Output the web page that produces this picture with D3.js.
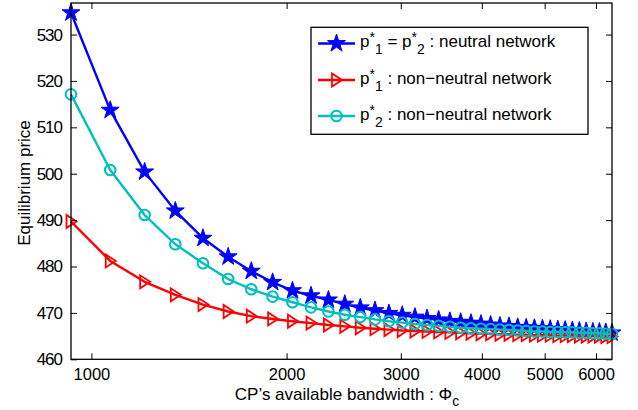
<!DOCTYPE html>
<html>
<head>
<meta charset="utf-8">
<script src="https://cdn.jsdelivr.net/npm/d3@7"></script>
<style>
  html, body { margin: 0; padding: 0; background: #fff; }
  svg { display: block; font-family: "Liberation Sans", Arial, Helvetica, sans-serif; }
</style>
</head>
<body>
<svg id="chart" width="638" height="410"></svg>
<script>
// ---- data ----
const bandwidth = [930, 1069, 1208, 1347, 1486, 1625, 1764, 1903, 2042, 2181,
  2320, 2459, 2598, 2737, 2876, 3015, 3154, 3293, 3432, 3571,
  3710, 3849, 3988, 4127, 4266, 4405, 4544, 4683, 4822, 4961,
  5100, 5239, 5378, 5517, 5656, 5795, 5934, 6073, 6212, 6351];

const neutralPrice = [534.7, 513.7, 500.4, 492.0, 486.1, 482.1, 479.0, 476.6, 474.8, 473.7,
  472.8, 471.9, 471.1, 470.5, 469.9, 469.5, 469.1, 468.8, 468.5, 468.2,
  468.0, 467.8, 467.6, 467.4, 467.2, 467.1, 466.9, 466.8, 466.7, 466.6,
  466.5, 466.4, 466.3, 466.2, 466.1, 466.0, 465.9, 465.9, 465.8, 465.7];

const nonNeutralP1 = [489.7, 481.2, 476.7, 473.9, 471.8, 470.3, 469.3, 468.7, 468.2, 467.8,
  467.4, 467.1, 466.8, 466.6, 466.4, 466.2, 466.1, 466.0, 465.9, 465.8,
  465.7, 465.6, 465.5, 465.5, 465.4, 465.4, 465.3, 465.3, 465.2, 465.2,
  465.2, 465.1, 465.1, 465.1, 465.0, 465.0, 465.0, 465.0, 464.9, 464.9];

const nonNeutralP2 = [517.1, 500.8, 491.1, 484.8, 480.7, 477.3, 475.1, 473.5, 472.3, 471.2,
  470.3, 469.6, 469.1, 468.6, 468.2, 467.9, 467.6, 467.4, 467.2, 467.0,
  466.8, 466.7, 466.6, 466.5, 466.4, 466.3, 466.2, 466.1, 466.0, 466.0,
  465.9, 465.9, 465.8, 465.8, 465.7, 465.7, 465.6, 465.6, 465.5, 465.5];

const xTicks = [1000, 2000, 3000, 4000, 5000, 6000];
const yTicks = [460, 470, 480, 490, 500, 510, 520, 530];

const seriesInfo = [
  {key: "neutral", values: neutralPrice, color: "#0000ff", marker: "star"},
  {key: "p1", values: nonNeutralP1, color: "#ff0000", marker: "tri"},
  {key: "p2", values: nonNeutralP2, color: "#00bfbf", marker: "circle"}
];

// ---- layout ----
const X0 = 71, X1 = 612, Y0 = 3, Y1 = 359.3;
const svg = d3.select("#chart");

const x = d3.scaleLog().domain([930, 6351]).range([X0, X1]);
const y = d3.scaleLinear().domain([460, 536.8]).range([Y1, Y0]);

const starPath = d3.symbol().type(d3.symbolStar).size(100)();
const triPath = "M-4.5,-6.5L-4.5,6.5L5.5,0Z";

function drawMarker(g, type, color) {
  if (type === "star") {
    g.append("path").attr("d", starPath).attr("fill", color).attr("stroke", color).attr("stroke-width", 1);
  } else if (type === "tri") {
    g.append("path").attr("d", triPath).attr("fill", "none").attr("stroke", color).attr("stroke-width", 1.8);
  } else {
    g.append("circle").attr("r", 5.3).attr("fill", "none").attr("stroke", color).attr("stroke-width", 2);
  }
}

// ---- series ----
const line = d3.line().x(d => x(d[0])).y(d => y(d[1]));
const plot = svg.append("g");
seriesInfo.forEach(s => {
  const pts = bandwidth.map((b, i) => [b, s.values[i]]);
  plot.append("path").attr("d", line(pts)).attr("fill", "none")
    .attr("stroke", s.color).attr("stroke-width", 2.4).attr("stroke-linejoin", "round");
  pts.forEach(p => {
    const g = plot.append("g").attr("transform", `translate(${x(p[0])},${y(p[1])})`);
    drawMarker(g, s.marker, s.color);
  });
});

// ---- axes ----
const tickLen = 6;
const axisBottom = d3.axisBottom(x).tickValues(xTicks).tickFormat(d3.format("d")).tickSizeInner(-tickLen).tickSizeOuter(0).tickPadding(12);
const axisTop = d3.axisTop(x).tickValues(xTicks).tickFormat("").tickSizeInner(-tickLen).tickSizeOuter(0);
const axisLeft = d3.axisLeft(y).tickValues(yTicks).tickFormat(d3.format("d")).tickSizeInner(-tickLen).tickSizeOuter(0).tickPadding(9);
const axisRight = d3.axisRight(y).tickValues(yTicks).tickFormat("").tickSizeInner(-tickLen).tickSizeOuter(0);

function styleAxis(g) {
  g.select(".domain").remove();
  g.selectAll(".tick line").attr("stroke", "#000").attr("stroke-width", 1);
  g.selectAll("text").attr("fill", "#000").attr("font-family", "Liberation Sans, Arial, sans-serif");
}
const gB = svg.append("g").attr("transform", `translate(0,${Y1})`).call(axisBottom).call(styleAxis);
gB.selectAll("text").attr("font-size", 16.5).attr("dy", null).attr("y", 21.2);
svg.append("g").attr("transform", `translate(0,${Y0})`).call(axisTop).call(styleAxis);
const gL = svg.append("g").attr("transform", `translate(${X0},0)`).call(axisLeft).call(styleAxis);
gL.selectAll("text").attr("font-size", 17).attr("letter-spacing", "-1px");
svg.append("g").attr("transform", `translate(${X1},0)`).call(axisRight).call(styleAxis);

svg.append("rect").attr("x", X0).attr("y", Y0).attr("width", X1 - X0).attr("height", Y1 - Y0)
  .attr("fill", "none").attr("stroke", "#000").attr("stroke-width", 1.3);

// ---- axis labels ----
const xl = svg.append("text").attr("x", 347).attr("y", 399.5).attr("text-anchor", "middle")
  .attr("font-size", 17).attr("fill", "#000");
xl.append("tspan").text("CP\u2019s available bandwidth : \u03A6");
xl.append("tspan").attr("font-size", 14).attr("dy", 6).text("c");

svg.append("text").attr("transform", `translate(30,183) rotate(-90)`).attr("text-anchor", "middle")
  .attr("font-size", 17).attr("fill", "#000").text("Equilibrium price");

// ---- legend ----
const LX = 311, LY = 27.3, LW = 277, LH = 107;
const leg = svg.append("g");
leg.append("rect").attr("x", LX).attr("y", LY).attr("width", LW).attr("height", LH)
  .attr("fill", "#fff").attr("stroke", "#000").attr("stroke-width", 1.3);

const legendRows = [
  {s: seriesInfo[0], parts: [["p"], ["*", "sup"], ["1", "sub"], [" = p"], ["*", "sup"], ["2", "sub"], [" : neutral network"]]},
  {s: seriesInfo[1], parts: [["p"], ["*", "sup"], ["1", "sub"], [" : non\u2212neutral network"]]},
  {s: seriesInfo[2], parts: [["p"], ["*", "sup"], ["2", "sub"], [" : non\u2212neutral network"]]}
];
const rowY = [43.5, 80, 116];
legendRows.forEach((r, i) => {
  const cy = rowY[i];
  leg.append("line").attr("x1", 318).attr("x2", 355).attr("y1", cy).attr("y2", cy)
    .attr("stroke", r.s.color).attr("stroke-width", 2.4);
  const g = leg.append("g").attr("transform", `translate(336.5,${cy})`);
  drawMarker(g, r.s.marker, r.s.color);
  const t = leg.append("text").attr("x", 360).attr("y", cy + 3.5).attr("font-size", 17).attr("fill", "#000");
  let state = "base";
  r.parts.forEach(p => {
    const kind = p[1] || "base";
    const off = {base: 0, sup: -5, sub: 7};
    const dy = off[kind] - off[state];
    const ts = t.append("tspan").text(p[0]).attr("dy", dy);
    if (kind !== "base") ts.attr("font-size", 14);
    state = kind;
  });
});
</script>
</body>
</html>
